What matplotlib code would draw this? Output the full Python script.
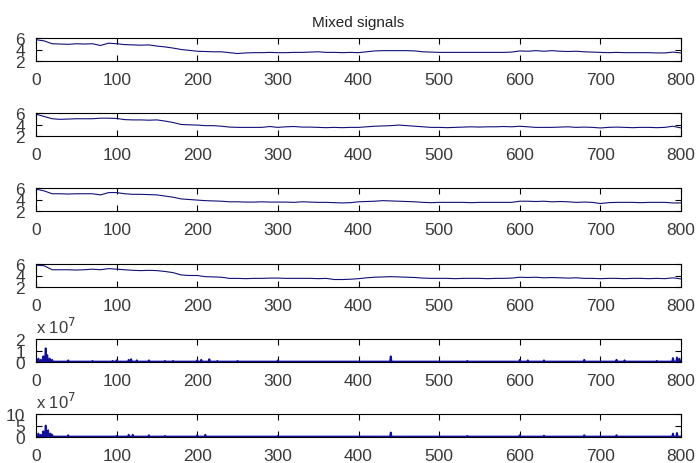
import numpy as np
import matplotlib
matplotlib.use("Agg")
import matplotlib.pyplot as plt

# sample index of every value below (one value read every 10 samples)
idx = list(range(0, 801, 10))

sig1 = [5.7, 5.5, 5.0, 4.95, 4.9, 5.0, 4.95, 5.0, 4.7, 5.1,
        5.0, 4.85, 4.8, 4.75, 4.8, 4.6, 4.45, 4.25, 4.0, 3.85,
        3.7, 3.65, 3.6, 3.6, 3.45, 3.3, 3.4, 3.45, 3.45, 3.5,
        3.45, 3.45, 3.5, 3.5, 3.55, 3.6, 3.5, 3.5, 3.45, 3.5,
        3.45, 3.6, 3.75, 3.8, 3.8, 3.8, 3.8, 3.75, 3.6, 3.55,
        3.5, 3.5, 3.5, 3.5, 3.5, 3.5, 3.5, 3.5, 3.5, 3.55,
        3.75, 3.7, 3.8, 3.7, 3.8, 3.7, 3.65, 3.7, 3.6, 3.55,
        3.5, 3.45, 3.5, 3.45, 3.45, 3.45, 3.45, 3.4, 3.4, 3.55,
        3.4]

sig2 = [5.8, 5.4, 5.0, 4.9, 4.95, 5.0, 5.0, 5.0, 5.1, 5.1,
        5.05, 4.85, 4.8, 4.8, 4.75, 4.8, 4.6, 4.35, 4.0, 3.95,
        3.9, 3.8, 3.8, 3.7, 3.55, 3.5, 3.5, 3.5, 3.5, 3.65,
        3.5, 3.6, 3.65, 3.55, 3.55, 3.5, 3.45, 3.5, 3.45, 3.5,
        3.5, 3.6, 3.7, 3.75, 3.8, 3.9, 3.8, 3.7, 3.6, 3.5,
        3.5, 3.45, 3.5, 3.55, 3.6, 3.55, 3.6, 3.6, 3.65, 3.6,
        3.7, 3.6, 3.5, 3.5, 3.5, 3.55, 3.6, 3.5, 3.55, 3.5,
        3.4, 3.5, 3.55, 3.5, 3.45, 3.5, 3.5, 3.45, 3.5, 3.7,
        3.4]

sig3 = [5.8, 5.5, 5.0, 5.0, 4.95, 5.0, 5.0, 5.0, 4.8, 5.2,
        5.2, 5.0, 4.9, 4.9, 4.85, 4.8, 4.6, 4.4, 4.1, 4.0,
        3.9, 3.8, 3.75, 3.7, 3.6, 3.6, 3.55, 3.55, 3.6, 3.55,
        3.55, 3.55, 3.5, 3.6, 3.55, 3.5, 3.5, 3.45, 3.4, 3.45,
        3.6, 3.65, 3.7, 3.8, 3.75, 3.7, 3.65, 3.6, 3.5, 3.45,
        3.5, 3.5, 3.5, 3.5, 3.45, 3.5, 3.5, 3.5, 3.5, 3.5,
        3.7, 3.7, 3.65, 3.7, 3.6, 3.65, 3.6, 3.5, 3.55, 3.5,
        3.3, 3.45, 3.5, 3.5, 3.5, 3.45, 3.5, 3.5, 3.5, 3.4,
        3.4]

sig4 = [5.8, 5.7, 5.0, 5.0, 5.0, 4.95, 5.0, 5.1, 5.0, 5.2,
        5.1, 5.0, 4.9, 4.85, 4.9, 4.85, 4.7, 4.5, 4.1, 4.0,
        4.0, 3.8, 3.75, 3.7, 3.5, 3.5, 3.45, 3.5, 3.5, 3.55,
        3.55, 3.5, 3.5, 3.5, 3.5, 3.45, 3.5, 3.3, 3.3, 3.35,
        3.45, 3.6, 3.7, 3.75, 3.8, 3.75, 3.7, 3.65, 3.55, 3.5,
        3.5, 3.5, 3.45, 3.5, 3.5, 3.5, 3.45, 3.5, 3.5, 3.55,
        3.7, 3.65, 3.7, 3.6, 3.65, 3.6, 3.55, 3.6, 3.5, 3.5,
        3.45, 3.5, 3.5, 3.45, 3.5, 3.5, 3.45, 3.5, 3.45, 3.6,
        3.4]

# spiky signals, values in units of 1e7
spike_pos5 = [3, 6, 9, 12, 14, 17, 20, 40, 70, 95, 100, 115, 118, 125, 140,
              160, 170, 200, 205, 215, 225, 250, 300, 440, 535, 600, 610,
              630, 680, 720, 730, 770, 790, 795, 798]
spike_h5 = [0.3, 0.2, 0.5, 1.2, 0.6, 0.3, 0.2, 0.15, 0.1, 0.1, 0.15, 0.2,
            0.25, 0.15, 0.15, 0.1, 0.1, 0.15, 0.2, 0.25, 0.1, 0.1, 0.15,
            0.5, 0.1, 0.2, 0.15, 0.15, 0.2, 0.2, 0.15, 0.1, 0.35, 0.4, 0.3]

spike_pos6 = [3, 6, 9, 12, 15, 18, 20, 40, 100, 115, 120, 140, 160, 200,
              210, 300, 440, 535, 600, 630, 680, 720, 790, 795]
spike_h6 = [1.5, 1.0, 2.5, 5.0, 3.0, 1.5, 1.0, 0.8, 0.5, 1.0, 1.0, 0.8,
            0.5, 0.8, 1.0, 0.5, 2.0, 0.5, 0.8, 0.6, 0.8, 0.8, 1.5, 1.8]
base5 = 0.04
base6 = 0.2

xticks = list(range(0, 801, 100))

LINE = "#10107a"
TXT = "#3a3a3a"
FS = 12.5


def spike_line(pos, h, base):
    xs, ys = [0], [base]
    for p, v in zip(pos, h):
        xs += [p - 1, p, p + 1]
        ys += [base, v, base]
    xs.append(800)
    ys.append(base)
    return xs, ys


def style(ax, ylim, yticks, ylabels):
    ax.set_xlim(0, 800)
    ax.set_ylim(*ylim)
    ax.set_xticks(xticks)
    ax.set_yticks(yticks)
    ax.set_yticklabels(ylabels)
    ax.tick_params(direction="in", top=True, right=True, length=4,
                   width=0.8, labelsize=FS, colors="black", labelcolor=TXT)
    ax.tick_params(axis="x", pad=8)
    ax.tick_params(axis="y", pad=8)
    for s in ax.spines.values():
        s.set_linewidth(0.8)


plt.rcParams["font.family"] = ["Liberation Sans", "DejaVu Sans"]
fig = plt.figure(figsize=(6.96, 4.64), dpi=100)

H = 464.0
tops = [39, 114, 189, 265, 340, 415]
axes = []
for t in tops:
    axes.append(fig.add_axes([36 / 696, 1 - (t + 23) / H, 645 / 696, 23 / H]))

for ax, sig in zip(axes[:4], [sig1, sig2, sig3, sig4]):
    ax.plot(idx, sig, color=LINE, lw=0.8)
    style(ax, (2, 6), [2, 4, 6], ["2", "4", "6"])

x5, y5 = spike_line(spike_pos5, spike_h5, base5)
axes[4].plot(x5, y5, color="#1010a0", lw=1.3)
style(axes[4], (0, 2), [0, 1, 2], ["0", "1", "2"])

x6, y6 = spike_line(spike_pos6, spike_h6, base6)
axes[5].plot(x6, y6, color="#1010a0", lw=1.3)
style(axes[5], (0, 10), [0, 5, 10], ["0", "5", "10"])

for ax in axes[4:]:
    ax.text(0.0, 1.15, r"x 10$^{7}$", transform=ax.transAxes, fontsize=12,
            color=TXT, ha="left", va="bottom")

axes[0].set_title("Mixed signals", fontsize=11, color="#222222", pad=9)

fig.savefig("out.png", dpi=100)
